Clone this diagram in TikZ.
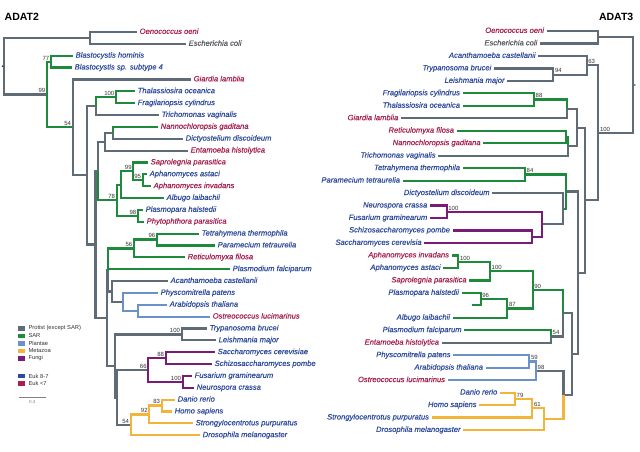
\documentclass[tikz,border=0pt]{standalone}
\usepackage{fontspec}
\setmainfont{Liberation Sans}
\newfontfamily\labfont{Liberation Sans}[FakeBold=0.3]
\definecolor{cgrey}{HTML}{5F6B76}
\definecolor{csar}{HTML}{1D8A3C}
\definecolor{cpla}{HTML}{6B91C9}
\definecolor{cmet}{HTML}{F3B43A}
\definecolor{cfun}{HTML}{7A1C77}
\definecolor{cblue}{HTML}{2E4A9B}
\definecolor{cred}{HTML}{A51F4F}
\definecolor{cgtext}{HTML}{55595E}
\definecolor{csup}{HTML}{333333}
\tikzset{
 br/.style={line width=2.2pt},
 bgrey/.style={br, draw=cgrey},
 bsar/.style={br, draw=csar},
 bpla/.style={br, draw=cpla},
 bmet/.style={br, draw=cmet},
 bfun/.style={br, draw=cfun},
 lab/.style={font=\labfont\fontsize{7.6}{9}\selectfont\itshape, inner xsep=2.5pt, inner ysep=0pt, text height=5.3pt, text depth=1.5pt},
 labL/.style={lab, anchor=west},
 labR/.style={lab, anchor=east},
 tb/.style={text=cblue}, tr/.style={text=cred}, tk/.style={text=cgtext},
 supL/.style={anchor=south east, inner sep=0pt, font=\fontsize{6}{7}\selectfont, text=csup, xshift=-1.5pt, yshift=1.4pt},
 supR/.style={anchor=south west, inner sep=0pt, font=\fontsize{6}{7}\selectfont, text=csup, xshift=1.5pt, yshift=1.4pt},
 sw/.style={minimum width=6.7pt, minimum height=4.5pt, inner sep=0pt},
 legt/.style={anchor=west, inner sep=0pt, font=\fontsize{5.8}{7}\selectfont, text=csup},
 ttl/.style={inner sep=0pt, font=\fontsize{10.5}{12}\selectfont\bfseries},
}
\begin{document}
\begin{tikzpicture}[x=1pt,y=-1pt]
\useasboundingbox[fill=white] (0,0) rectangle (640,452);
% titles
\node[ttl,anchor=west] (t2) at (4.5,17) {ADAT2};
\node[ttl,anchor=east] (t3) at (633.5,17) {ADAT3};
% ---------------- left tree: internal nodes
\coordinate (lA) at (90,37.93);
\coordinate (lroot) at (4.3,66.2);
\coordinate (l77) at (51,61.65);
\coordinate (l99) at (47,94.5);
\coordinate (l54) at (72.7,127.36);
\coordinate (ld100) at (116,97.23);
\coordinate (lDT) at (96,106.1);
\coordinate (lX) at (87.3,175.28);
\coordinate (lND) at (113,132.81);
\coordinate (lNDE) at (105,141.7);
\coordinate (lo95) at (142.7,180.25);
\coordinate (lo99) at (133.3,171.36);
\coordinate (lAlb) at (120.7,184.7);
\coordinate (l98) at (138,215.83);
\coordinate (l78) at (116.7,200.27);
\coordinate (lN1) at (98,170.99);
\coordinate (l96) at (157,239.55);
\coordinate (l56) at (134,248.45);
\coordinate (lP) at (138,310.71);
\coordinate (lPl) at (122.7,301.8);
\coordinate (lA2) at (111.7,291.43);
\coordinate (lB) at (108,269.94);
\coordinate (lt100) at (181.7,334.43);
\coordinate (l88) at (165.7,358.15);
\coordinate (lf100) at (182.7,381.87);
\coordinate (l66) at (148.3,370.01);
\coordinate (l83) at (161.7,405.59);
\coordinate (l92) at (149.3,414.49);
\coordinate (lm54) at (130.7,424.86);
\coordinate (lN5) at (116.7,397.44);
\coordinate (lN4) at (115,365.93);
\coordinate (lN3) at (106.7,317.94);
\coordinate (lN2) at (95.5,244.46);
% left leaves
\node[labL,tr] (l1) at (137,32) {Oenococcus oeni};
\node[labL,tk] (l2) at (186,43.86) {Escherichia coli};
\node[labL,tb] (l3) at (73,55.72) {Blastocystis hominis};
\node[labL,tb] (l4) at (72,67.58) {Blastocystis sp. subtype 4};
\node[labL,tr] (l5) at (191,79.44) {Giardia lamblia};
\node[labL,tb] (l6) at (135,91.3) {Thalassiosira oceanica};
\node[labL,tb] (l7) at (135,103.16) {Fragilariopsis cylindrus};
\node[labL,tb] (l8) at (159,115.02) {Trichomonas vaginalis};
\node[labL,tr] (l9) at (158,126.88) {Nannochloropsis gaditana};
\node[labL,tb] (l10) at (183,138.74) {Dictyostelium discoideum};
\node[labL,tr] (l11) at (188,150.6) {Entamoeba histolytica};
\node[labL,tr] (l12) at (148,162.46) {Saprolegnia parasitica};
\node[labL,tb] (l13) at (147,174.32) {Aphanomyces astaci};
\node[labL,tr] (l14) at (151,186.18) {Aphanomyces invadans};
\node[labL,tb] (l15) at (164,198.04) {Albugo laibachii};
\node[labL,tb] (l16) at (143,209.9) {Plasmopara halstedii};
\node[labL,tr] (l17) at (144,221.76) {Phytophthora parasitica};
\node[labL,tb] (l18) at (199,233.62) {Tetrahymena thermophila};
\node[labL,tb] (l19) at (215,245.48) {Paramecium tetraurelia};
\node[labL,tr] (l20) at (185,257.34) {Reticulomyxa filosa};
\node[labL,tb] (l21) at (230,269.2) {Plasmodium falciparum};
\node[labL,tb] (l22) at (168,281.06) {Acanthamoeba castellanii};
\node[labL,tb] (l23) at (158,292.92) {Physcomitrella patens};
\node[labL,tb] (l24) at (167,304.78) {Arabidopsis thaliana};
\node[labL,tr] (l25) at (210,316.64) {Ostreococcus lucimarinus};
\node[labL,tb] (l26) at (207,328.5) {Trypanosoma brucei};
\node[labL,tb] (l27) at (216,340.36) {Leishmania major};
\node[labL,tb] (l28) at (215,352.22) {Saccharomyces cerevisiae};
\node[labL,tb] (l29) at (212,364.08) {Schizosaccharomyces pombe};
\node[labL,tb] (l30) at (192,375.94) {Fusarium graminearum};
\node[labL,tb] (l31) at (194,387.8) {Neurospora crassa};
\node[labL,tb] (l32) at (175,399.66) {Danio rerio};
\node[labL,tb] (l33) at (172,411.52) {Homo sapiens};
\node[labL,tb] (l34) at (193,423.38) {Strongylocentrotus purpuratus};
\node[labL,tb] (l35) at (200,435.24) {Drosophila melanogaster};
% left branches
\draw[bgrey] (lroot) |- (lA); \draw[bgrey] (lA) |- (l1.west); \draw[bgrey] (lA) |- (l2.west);
\draw[bgrey] (lroot) |- (l99);
\draw[bsar] (l99) |- (l77); \draw[bsar] (l77) |- (l3.west); \draw[bsar] (l77) |- (l4.west);
\draw[bsar] (l99) |- (l54);
\draw[bgrey] (l54) |- (l5.west); \draw[bgrey] (l54) |- (lX); \draw[bgrey] (lX) |- (lDT);
\draw[bsar] (lDT) |- (ld100); \draw[bsar] (ld100) |- (l6.west); \draw[bsar] (ld100) |- (l7.west);
\draw[bgrey] (lDT) |- (l8.west); \draw[bgrey] (lX) |- (lN2); \draw[bgrey] (lN2) |- (lN1);
\draw[bgrey] (lN1) |- (lNDE); \draw[bgrey] (lNDE) |- (lND);
\draw[bsar] (lND) |- (l9.west);
\draw[bgrey] (lND) |- (l10.west); \draw[bgrey] (lNDE) |- (l11.west);
\draw[bsar] (lN1) |- (l78); \draw[bsar] (l78) |- (lAlb); \draw[bsar] (lAlb) |- (lo99);
\draw[bsar] (lo99) |- (l12.west); \draw[bsar] (lo99) |- (lo95);
\draw[bsar] (lo95) |- (l13.west); \draw[bsar] (lo95) |- (l14.west);
\draw[bsar] (lAlb) |- (l15.west); \draw[bsar] (l78) |- (l98);
\draw[bsar] (l98) |- (l16.west); \draw[bsar] (l98) |- (l17.west);
\draw[bgrey] (lN2) |- (lN3); \draw[bgrey] (lN3) |- (lB);
\draw[bsar] (lB) |- (l56); \draw[bsar] (l56) |- (l96);
\draw[bsar] (l96) |- (l18.west); \draw[bsar] (l96) |- (l19.west);
\draw[bsar] (l56) |- (l20.west); \draw[bsar] (lB) |- (l21.west);
\draw[bgrey] (lB) |- (lA2); \draw[bgrey] (lA2) |- (l22.west); \draw[bgrey] (lA2) |- (lPl);
\draw[bpla] (lPl) |- (l23.west); \draw[bpla] (lPl) |- (lP);
\draw[bpla] (lP) |- (l24.west); \draw[bpla] (lP) |- (l25.west);
\draw[bgrey] (lN3) |- (lN4); \draw[bgrey] (lN4) |- (lt100);
\draw[bgrey] (lt100) |- (l26.west); \draw[bgrey] (lt100) |- (l27.west);
\draw[bgrey] (lN4) |- (lN5); \draw[bgrey] (lN5) |- (l66);
\draw[bfun] (l66) |- (l88); \draw[bfun] (l88) |- (l28.west); \draw[bfun] (l88) |- (l29.west);
\draw[bfun] (l66) |- (lf100); \draw[bfun] (lf100) |- (l30.west); \draw[bfun] (lf100) |- (l31.west);
\draw[bgrey] (lN5) |- (lm54);
\draw[bmet] (lm54) |- (l92); \draw[bmet] (l92) |- (l83);
\draw[bmet] (l83) |- (l32.west); \draw[bmet] (l83) |- (l33.west);
\draw[bmet] (l92) |- (l34.west); \draw[bmet] (lm54) |- (l35.west);
\fill[black] ([xshift=-1.8pt]lroot) circle (0.8pt);
% left supports
\node[supL] (s1) at (l77) {77};
\node[supL] (s2) at (l99) {99};
\node[supL] (s3) at (l54) {54};
\node[supL] (s4) at (ld100) {100};
\node[supL] (s5) at (lo99) {99};
\node[supL] (s6) at (lo95) {95};
\node[supL] (s7) at (l78) {78};
\node[supL] (s8) at (l98) {98};
\node[supL] (s9) at (l96) {96};
\node[supL] (s10) at (l56) {56};
\node[supL] (s11) at (lt100) {100};
\node[supL] (s12) at (l88) {88};
\node[supL] (s13) at (l66) {66};
\node[supL] (s14) at (lf100) {100};
\node[supL] (s15) at (l83) {83};
\node[supL] (s16) at (l92) {92};
\node[supL] (s17) at (lm54) {54};
% ---------------- right tree: internal nodes
\coordinate (rA) at (598.3,37.24);
\coordinate (rroot) at (633.3,85.0);
\coordinate (r94) at (553.3,74.65);
\coordinate (r63) at (586.7,65.3);
\coordinate (r88) at (534,99.59);
\coordinate (rS) at (567.3,108.94);
\coordinate (rRN) at (566,137.0);
\coordinate (rT) at (568.3,146.35);
\coordinate (rR) at (576.7,127.65);
\coordinate (r84) at (525,174.41);
\coordinate (rF100) at (446.7,211.82);
\coordinate (rSS) at (531.7,236.76);
\coordinate (rFun) at (541.7,224.29);
\coordinate (rV) at (562.7,208.7);
\coordinate (rW) at (566.3,191.56);
\coordinate (rA100) at (458.3,261.7);
\coordinate (rO100) at (490,271.05);
\coordinate (r96) at (480.7,299.1);
\coordinate (r87) at (507.3,308.46);
\coordinate (r90) at (532.7,289.76);
\coordinate (r54) at (551,336.52);
\coordinate (rSA) at (562.7,313.14);
\coordinate (r59) at (529.3,361.46);
\coordinate (r98) at (536,370.81);
\coordinate (r79) at (515,398.87);
\coordinate (r61) at (532.3,408.22);
\coordinate (rMet) at (544,419.13);
\coordinate (rVV) at (563.5,394.97);
\coordinate (rVv) at (571.7,354.06);
\coordinate (rU) at (577.7,272.81);
\coordinate (rQ) at (585,200.23);
\coordinate (r100) at (598.3,132.77);
% right leaves
\node[labR,tr] (r1) at (546.7,31) {Oenococcus oeni};
\node[labR,tk] (r2) at (540,43.47) {Escherichia coli};
\node[labR,tb] (r3) at (538.3,55.94) {Acanthamoeba castellanii};
\node[labR,tb] (r4) at (494,68.41) {Trypanosoma brucei};
\node[labR,tb] (r5) at (507.3,80.88) {Leishmania major};
\node[labR,tb] (r6) at (462.7,93.35) {Fragilariopsis cylindrus};
\node[labR,tb] (r7) at (462.7,105.82) {Thalassiosira oceanica};
\node[labR,tr] (r8) at (401,118.29) {Giardia lamblia};
\node[labR,tr] (r9) at (456.7,130.76) {Reticulomyxa filosa};
\node[labR,tr] (r10) at (483.3,143.23) {Nannochloropsis gaditana};
\node[labR,tb] (r11) at (438.3,155.7) {Trichomonas vaginalis};
\node[labR,tb] (r12) at (462.7,168.17) {Tetrahymena thermophila};
\node[labR,tb] (r13) at (402.7,180.64) {Paramecium tetraurelia};
\node[labR,tb] (r14) at (492.3,193.11) {Dictyostelium discoideum};
\node[labR,tb] (r15) at (430,205.58) {Neurospora crassa};
\node[labR,tb] (r16) at (430,218.05) {Fusarium graminearum};
\node[labR,tb] (r17) at (452.7,230.52) {Schizosaccharomyces pombe};
\node[labR,tb] (r18) at (424.3,242.99) {Saccharomyces cerevisia};
\node[labR,tr] (r19) at (451.7,255.46) {Aphanomyces invadans};
\node[labR,tb] (r20) at (443.3,267.93) {Aphanomyces astaci};
\node[labR,tr] (r21) at (469.3,280.4) {Saprolegnia parasitica};
\node[labR,tb] (r22) at (461.7,292.87) {Plasmopara halstedii};
\coordinate (r23) at (471.7,305.34);
\node[labR,tb] (r24) at (452.7,317.81) {Albugo laibachii};
\node[labR,tb] (r25) at (464.3,330.28) {Plasmodium falciparum};
\node[labR,tr] (r26) at (441.7,342.75) {Entamoeba histolytica};
\node[labR,tb] (r27) at (453.3,355.22) {Physcomitrella patens};
\node[labR,tb] (r28) at (485.7,367.69) {Arabidopsis thaliana};
\node[labR,tr] (r29) at (447.7,380.16) {Ostreococcus lucimarinus};
\node[labR,tb] (r30) at (500,392.63) {Danio rerio};
\node[labR,tb] (r31) at (479.3,405.1) {Homo sapiens};
\node[labR,tb] (r32) at (431.7,417.57) {Strongylocentrotus purpuratus};
\node[labR,tb] (r33) at (463.3,430.04) {Drosophila melanogaster};
% right branches
\draw[bgrey] (rroot) |- (rA); \draw[bgrey] (rA) |- (r1.east); \draw[bgrey] (rA) |- (r2.east);
\draw[bgrey] (rroot) |- (r100); \draw[bgrey] (r100) |- (r63);
\draw[bgrey] (r63) |- (r3.east); \draw[bgrey] (r63) |- (r94);
\draw[bgrey] (r94) |- (r4.east); \draw[bgrey] (r94) |- (r5.east);
\draw[bgrey] (r100) |- (rQ); \draw[bgrey] (rQ) |- (rR); \draw[bgrey] (rR) |- (rS);
\draw[bsar] (rS) |- (r88); \draw[bsar] (r88) |- (r6.east); \draw[bsar] (r88) |- (r7.east);
\draw[bgrey] (rS) |- (r8.east); \draw[bgrey] (rR) |- (rT);
\draw[bsar] (rT) |- (rRN); \draw[bsar] (rRN) |- (r9.east); \draw[bsar] (rRN) |- (r10.east);
\draw[bgrey] (rT) |- (r11.east); \draw[bgrey] (rQ) |- (rU); \draw[bgrey] (rU) |- (rW);
\draw[bsar] (rW) |- (r84); \draw[bsar] (r84) |- (r12.east); \draw[bsar] (r84) |- (r13.east);
\draw[bsar] (rW) |- (rV);
\draw[bgrey] (rV) |- (r14.east); \draw[bgrey] (rV) |- (rFun);
\draw[bfun] (rFun) |- (rF100); \draw[bfun] (rF100) |- (r15.east); \draw[bfun] (rF100) |- (r16.east);
\draw[bfun] (rFun) |- (rSS); \draw[bfun] (rSS) |- (r17.east); \draw[bfun] (rSS) |- (r18.east);
\draw[bgrey] (rU) |- (rVv); \draw[bgrey] (rVv) |- (rSA);
\draw[bsar] (rSA) |- (r90); \draw[bsar] (r90) |- (rO100); \draw[bsar] (rO100) |- (rA100);
\draw[bsar] (rA100) |- (r19.east); \draw[bsar] (rA100) |- (r20.east);
\draw[bsar] (rO100) |- (r21.east); \draw[bsar] (r90) |- (r87); \draw[bsar] (r87) |- (r96);
\draw[bsar] (r96) |- (r22.east); \draw[bsar] (r96) |- (r23); \draw[bsar] (r87) |- (r24.east);
\draw[bgrey] (rSA) |- (r54);
\draw[bsar] (r54) |- (r25.east);
\draw[bgrey] (r54) |- (r26.east); \draw[bgrey] (rVv) |- (rVV); \draw[bgrey] (rVV) |- (r98);
\draw[bpla] (r98) |- (r59); \draw[bpla] (r59) |- (r27.east); \draw[bpla] (r59) |- (r28.east);
\draw[bpla] (r98) |- (r29.east);
\draw[bmet] (rVV) |- (rMet); \draw[bmet] (rMet) |- (r61); \draw[bmet] (r61) |- (r79);
\draw[bmet] (r79) |- (r30.east); \draw[bmet] (r79) |- (r31.east);
\draw[bmet] (r61) |- (r32.east); \draw[bmet] (rMet) |- (r33.east);
\fill[black] ([xshift=1.6pt]rroot) circle (0.8pt);
% right supports
\node[supR] (u1) at (r63) {63};
\node[supR] (u2) at (r94) {94};
\node[supR] (u3) at (r88) {88};
\node[supR] (u4) at (r100) {100};
\node[supR] (u5) at (r84) {84};
\node[supR] (u6) at (rF100) {100};
\node[supR] (u7) at (rA100) {100};
\node[supR] (u8) at (rO100) {100};
\node[supR] (u9) at (r96) {96};
\node[supR] (u10) at (r87) {87};
\node[supR] (u11) at (r90) {90};
\node[supR] (u12) at (r54) {54};
\node[supR] (u13) at (r59) {59};
\node[supR] (u14) at (r98) {98};
\node[supR] (u15) at (r79) {79};
\node[supR] (u16) at (r61) {61};
% legend
\node[sw,fill=cgrey] (k1) at (21.7,328.3) {};
\node[sw,fill=csar] (k2) at (21.7,335.8) {};
\node[sw,fill=cpla] (k3) at (21.7,343.3) {};
\node[sw,fill=cmet] (k4) at (21.7,350.8) {};
\node[sw,fill=cfun] (k5) at (21.7,358.3) {};
\node[sw,fill=cblue] (k6) at (21.7,376) {};
\node[sw,fill=cred] (k7) at (21.7,383.4) {};
\node[legt] (e1) at (28.3,328.3) {Protist (except SAR)};
\node[legt] (e2) at (28.3,335.8) {SAR};
\node[legt] (e3) at (28.3,343.3) {Plantae};
\node[legt] (e4) at (28.3,350.8) {Metazoa};
\node[legt] (e5) at (28.3,358.3) {Fungi};
\node[legt] (e6) at (28.3,376) {Euk 8-7};
\node[legt] (e7) at (28.3,383.4) {Euk <7};
\coordinate (sb1) at (19,397.7);
\coordinate (sb2) at (45.7,397.7);
\draw[line width=0.6pt, draw=gray] (sb1) -- (sb2);
\node[inner sep=0pt, font=\fontsize{4.5}{5}\selectfont, text=gray] (sbl) at (32.3,402) {0.4};
\end{tikzpicture}
\end{document}
